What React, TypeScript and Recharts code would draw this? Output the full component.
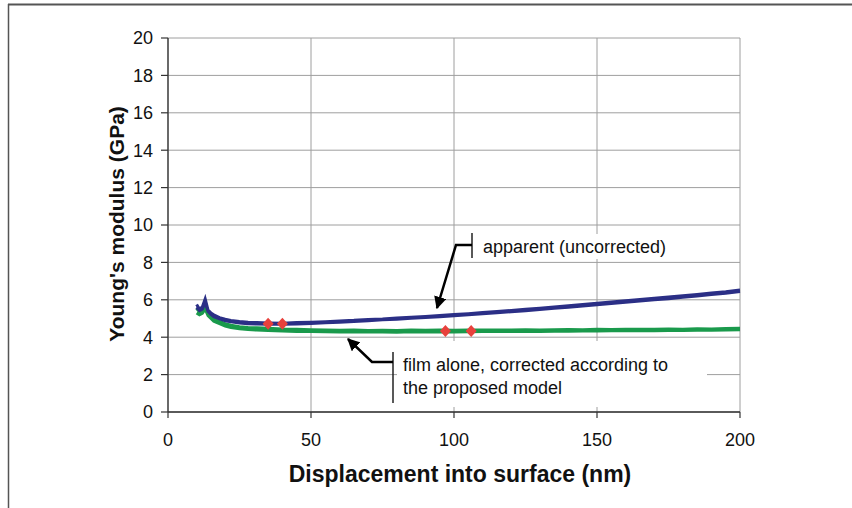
import React from "react";
import {
  ComposedChart,
  Line,
  Scatter,
  XAxis,
  YAxis,
  CartesianGrid,
} from "recharts";

// displacement into surface (nm)
const displacement = [
  10, 11, 12, 13, 14, 15, 16, 18, 20, 22, 25, 28, 31, 35, 40, 45, 50, 55, 60,
  65, 70, 75, 80, 85, 90, 95, 100, 105, 110, 115, 120, 125, 130, 135, 140, 145,
  150, 155, 160, 165, 170, 175, 180, 185, 190, 195, 200,
];

// apparent (uncorrected) modulus, two overlapping tests (GPa)
const apparentA = [
  5.75, 5.5, 5.62, 6.05, 5.45, 5.3, 5.2, 5.05, 4.96, 4.9, 4.84, 4.8, 4.78,
  4.76, 4.75, 4.78, 4.8, 4.83, 4.87, 4.9, 4.95, 4.98, 5.03, 5.07, 5.11, 5.16,
  5.21, 5.26, 5.32, 5.37, 5.43, 5.49, 5.55, 5.61, 5.68, 5.75, 5.82, 5.88, 5.95,
  6.01, 6.08, 6.15, 6.22, 6.29, 6.36, 6.43, 6.52,
];
const apparentB = [
  5.6, 5.42, 5.5, 5.85, 5.38, 5.22, 5.1, 4.98, 4.88, 4.83, 4.76, 4.72, 4.7,
  4.69, 4.69, 4.71, 4.73, 4.77, 4.8, 4.84, 4.88, 4.93, 4.96, 5.01, 5.05, 5.1,
  5.15, 5.2, 5.25, 5.31, 5.36, 5.42, 5.48, 5.55, 5.6, 5.67, 5.74, 5.8, 5.87,
  5.93, 6.0, 6.06, 6.14, 6.2, 6.28, 6.35, 6.44,
];

// film alone, corrected according to the proposed model (GPa)
const filmA = [
  5.55, 5.35, 5.45, 5.72, 5.3, 5.12, 4.98, 4.84, 4.72, 4.64, 4.56, 4.52, 4.5,
  4.48, 4.44, 4.42, 4.4, 4.38, 4.37, 4.38, 4.36, 4.37, 4.36, 4.38, 4.37, 4.38,
  4.37, 4.38, 4.38, 4.39, 4.38, 4.4, 4.39, 4.4, 4.41, 4.4, 4.42, 4.41, 4.42,
  4.43, 4.42, 4.44, 4.43, 4.45, 4.44, 4.46, 4.48,
];
const filmB = [
  5.3, 5.2, 5.28, 5.5, 5.15, 5.0, 4.86, 4.72, 4.6, 4.52, 4.45, 4.41, 4.38,
  4.36, 4.33, 4.31, 4.3, 4.29, 4.28, 4.29, 4.28, 4.28, 4.27, 4.29, 4.28, 4.29,
  4.28, 4.29, 4.3, 4.3, 4.3, 4.31, 4.31, 4.32, 4.32, 4.33, 4.33, 4.34, 4.34,
  4.35, 4.35, 4.36, 4.36, 4.37, 4.37, 4.38, 4.4,
];

// red diamond markers
const markerX = [35, 40, 97, 106];
const markerY = [4.72, 4.72, 4.33, 4.33];

const xTicks = [0, 50, 100, 150, 200];
const yTicks = [0, 2, 4, 6, 8, 10, 12, 14, 16, 18, 20];

const rows = displacement.map((x, i) => ({
  x,
  apparentA: apparentA[i],
  apparentB: apparentB[i],
  filmA: filmA[i],
  filmB: filmB[i],
}));

const markers = markerX.map((x, i) => ({ x, y: markerY[i] }));

const BLUE = "#2b2f86";
const GREEN = "#1a9a4c";
const RED = "#e8413c";
const FONT = "'Liberation Sans', Arial, sans-serif";

const Diamond = (props: any) => {
  const { cx, cy } = props;
  if (cx == null || cy == null) return null;
  return (
    <polygon
      points={`${cx},${cy - 6} ${cx + 5.5},${cy} ${cx},${cy + 6} ${cx - 5.5},${cy}`}
      fill={RED}
    />
  );
};

const XTick = (props: any) => (
  <text
    x={props.x}
    y={props.y}
    dy="0.71em"
    textAnchor="middle"
    fontSize={18}
    fontFamily={FONT}
    fill="#111"
  >
    {props.payload.value}
  </text>
);

const YTick = (props: any) => (
  <text
    x={props.x}
    y={props.y}
    dy="0.355em"
    textAnchor="end"
    fontSize={18}
    fontFamily={FONT}
    fill="#111"
  >
    {props.payload.value}
  </text>
);

export default function App() {
  return (
    <div
      style={{
        position: "absolute",
        left: 0,
        top: 0,
        width: 852,
        height: 508,
        background: "#fff",
        overflow: "hidden",
        fontFamily: FONT,
      }}
    >
      <ComposedChart
        width={852}
        height={508}
        data={rows}
        margin={{ top: 38, right: 112, left: 108, bottom: 66 }}
      >
        <CartesianGrid stroke="#9e9e9e" strokeWidth={1} />
        <XAxis
          dataKey="x"
          type="number"
          domain={[0, 200]}
          ticks={xTicks}
          height={30}
          tick={<XTick />}
          tickSize={6}
          tickMargin={15}
          axisLine={{ stroke: "#333", strokeWidth: 1.3 }}
          tickLine={{ stroke: "#333", strokeWidth: 1.2 }}
        />
        <YAxis
          type="number"
          domain={[0, 20]}
          ticks={yTicks}
          width={60}
          tick={<YTick />}
          tickSize={7}
          tickMargin={8}
          axisLine={{ stroke: "#333", strokeWidth: 1.3 }}
          tickLine={{ stroke: "#333", strokeWidth: 1.2 }}
        />
        <Line
          dataKey="filmB"
          stroke={GREEN}
          strokeWidth={3}
          dot={false}
          isAnimationActive={false}
        />
        <Line
          dataKey="filmA"
          stroke={GREEN}
          strokeWidth={3}
          dot={false}
          isAnimationActive={false}
        />
        <Line
          dataKey="apparentB"
          stroke={BLUE}
          strokeWidth={3}
          dot={false}
          isAnimationActive={false}
        />
        <Line
          dataKey="apparentA"
          stroke={BLUE}
          strokeWidth={3}
          dot={false}
          isAnimationActive={false}
        />
        <Scatter
          data={markers}
          dataKey="y"
          shape={Diamond}
          isAnimationActive={false}
        />
      </ComposedChart>

      <svg
        width={852}
        height={508}
        style={{ position: "absolute", left: 0, top: 0, pointerEvents: "none" }}
      >
        <defs>
          <marker
            id="arrowHead"
            viewBox="0 0 10 10"
            refX="9"
            refY="5"
            markerWidth="5"
            markerHeight="5"
            orient="auto"
            markerUnits="strokeWidth"
          >
            <path d="M0,0 L10,5 L0,10 z" fill="#000" />
          </marker>
        </defs>
        {/* outer frame */}
        <line x1={8} y1={4.5} x2={852} y2={4.5} stroke="#555" strokeWidth={2} />
        <line x1={8.5} y1={4} x2={8.5} y2={508} stroke="#555" strokeWidth={1.5} />

        {/* axis titles */}
        <text
          x={116}
          y={224}
          transform="rotate(-90 116 224)"
          textAnchor="middle"
          dominantBaseline="central"
          fontSize={21}
          fontWeight="bold"
          fill="#111"
        >
          Young's modulus (GPa)
        </text>
        <text
          x={460}
          y={474}
          textAnchor="middle"
          dominantBaseline="central"
          fontSize={23}
          fontWeight="bold"
          fill="#111"
        >
          Displacement into surface (nm)
        </text>

        {/* annotation: apparent */}
        <rect x={477} y={234} width={200} height={25} fill="#fff" />
        <line x1={472} y1={233} x2={472} y2={258} stroke="#222" strokeWidth={1.5} />
        <polyline
          points="472,245 456,245 437,308"
          fill="none"
          stroke="#000"
          strokeWidth={2.5}
          markerEnd="url(#arrowHead)"
        />
        <text x={483} y={247} dominantBaseline="central" fontSize={18} fill="#111">
          apparent (uncorrected)
        </text>

        {/* annotation: film alone */}
        <rect x={397} y={341} width={310} height={66} fill="#fff" />
        <line x1={393} y1={352} x2={393} y2={403} stroke="#222" strokeWidth={1.5} />
        <polyline
          points="393,362 372,362 348,339"
          fill="none"
          stroke="#000"
          strokeWidth={2.5}
          markerEnd="url(#arrowHead)"
        />
        <text x={403} y={365} dominantBaseline="central" fontSize={18} fill="#111">
          film alone, corrected according to
        </text>
        <text x={403} y={388} dominantBaseline="central" fontSize={18} fill="#111">
          the proposed model
        </text>
      </svg>
    </div>
  );
}
